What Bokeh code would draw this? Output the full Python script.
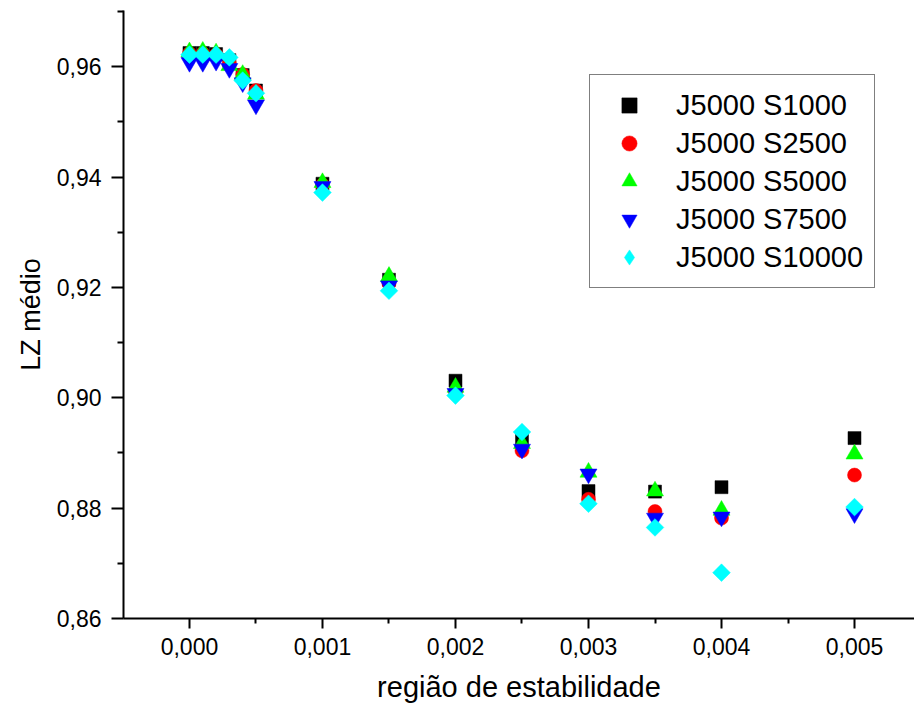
import math
from bokeh.plotting import figure
from bokeh.models import (ColumnDataSource, FixedTicker, CustomJSTickFormatter,
                          Legend, LegendItem, Range1d)
from bokeh.embed import file_html
from bokeh.resources import INLINE

# ---- data ----
x_vals = [0.0, 0.0001, 0.0002, 0.0003, 0.0004, 0.0005, 0.001, 0.0015,
          0.002, 0.0025, 0.003, 0.0035, 0.004, 0.005]
s1000 = [0.9625, 0.9625, 0.9623, 0.9612, 0.9585, 0.9557, 0.9388, 0.9214,
         0.9031, 0.8926, 0.8831, 0.8830, 0.8838, 0.8927]
s2500 = [0.9624, 0.9624, 0.9622, 0.9606, 0.9586, 0.9557, 0.9386, 0.9207,
         0.9010, 0.8904, 0.8816, 0.8794, 0.8782, 0.8860]
s5000 = [0.9627, 0.9628, 0.9625, 0.9602, 0.9586, 0.9550, 0.9390, 0.9220,
         0.9019, 0.8917, 0.8865, 0.8831, 0.8796, 0.8898]
s7500 = [0.9608, 0.9608, 0.9610, 0.9597, 0.9571, 0.9531, 0.9383, 0.9203,
         0.9008, 0.8907, 0.8862, 0.8782, 0.8784, 0.8790]
s10000 = [0.9622, 0.9622, 0.9622, 0.9617, 0.9575, 0.9552, 0.9372, 0.9194,
          0.9004, 0.8938, 0.8808, 0.8765, 0.8683, 0.8802]

series_names = ["J5000 S1000", "J5000 S2500", "J5000 S5000", "J5000 S7500", "J5000 S10000"]
x_ticks = [0.0, 0.001, 0.002, 0.003, 0.004, 0.005]
x_minor = [-0.0005, 0.0005, 0.0015, 0.0025, 0.0035, 0.0045]
y_ticks = [0.86, 0.88, 0.90, 0.92, 0.94, 0.96]
y_minor = [0.87, 0.89, 0.91, 0.93, 0.95, 0.97]

FONT = "Liberation Sans"

p = figure(width=914, height=715, output_backend="svg", toolbar_location=None,
           x_range=Range1d(-0.000496, 0.005451), y_range=Range1d(0.86, 0.9702),
           min_border_left=123, min_border_right=0, min_border_top=10,
           min_border_bottom=97)
p.outline_line_color = None
p.xgrid.visible = False
p.ygrid.visible = False
p.background_fill_color = "white"
p.border_fill_color = "white"

styles = [
    dict(data=s1000, marker="square", size=13, color="#000000", angle=0.0, leg=None),
    dict(data=s2500, marker="circle", size=14, color="#FF0000", angle=0.0, leg=None),
    dict(data=s5000, marker="triangle", size=17, color="#00FF00", angle=0.0, leg=None),
    dict(data=s7500, marker="inverted_triangle", size=17, color="#0000FF", angle=0.0, leg=None),
    dict(data=s10000, marker="square", size=12.5, color="#00FFFF", angle=math.pi / 4, leg="diamond"),
]

items = []
for name, st in zip(series_names, styles):
    src = ColumnDataSource(dict(x=x_vals, y=st["data"]))
    r = p.scatter("x", "y", source=src, marker=st["marker"], size=st["size"],
                  fill_color=st["color"], line_color=st["color"], line_width=0.5,
                  angle=st["angle"])
    if st["leg"] is not None:
        # legend-only swatch (legend glyphs ignore marker angle)
        lsrc = ColumnDataSource(dict(x=[float("nan")], y=[float("nan")]))
        r = p.scatter("x", "y", source=lsrc, marker=st["leg"], size=st["size"],
                      fill_color=st["color"], line_color=st["color"], line_width=0.5)
    items.append(LegendItem(label=name, renderers=[r]))

legend = Legend(items=items, location=(466, 330))
legend.border_line_color = "black"
legend.border_line_width = 1.5
legend.background_fill_alpha = 1.0
legend.label_text_font = FONT
legend.label_text_font_size = "29px"
legend.label_text_color = "black"
legend.padding = 11
legend.spacing = 0
legend.margin = 0
legend.glyph_width = 56
legend.glyph_height = 38
legend.label_height = 38
legend.label_standoff = 19
p.add_layout(legend)

# x axis
xa = p.xaxis[0]
xa.ticker = FixedTicker(ticks=x_ticks, minor_ticks=x_minor)
xa.formatter = CustomJSTickFormatter(code="return tick.toFixed(3).replace('.', ',');")
xa.axis_label = "região de estabilidade"
# y axis
ya = p.yaxis[0]
ya.ticker = FixedTicker(ticks=y_ticks, minor_ticks=y_minor)
ya.formatter = CustomJSTickFormatter(code="return tick.toFixed(2).replace('.', ',');")
ya.axis_label = "LZ médio"

for ax, mj, mn in ((xa, 10, 5), (ya, 12, 6)):
    ax.axis_line_color = "black"
    ax.axis_line_width = 2
    ax.major_tick_line_color = "black"
    ax.major_tick_line_width = 2
    ax.minor_tick_line_color = "black"
    ax.minor_tick_line_width = 2
    ax.major_tick_in = 0
    ax.major_tick_out = mj
    ax.minor_tick_in = 0
    ax.minor_tick_out = mn
    ax.major_label_text_font = FONT
    ax.major_label_text_font_size = "23px"
    ax.major_label_text_color = "black"
    ax.axis_label_text_font = FONT
    ax.axis_label_text_font_style = "normal"
    ax.axis_label_text_color = "black"

xa.major_label_standoff = 9
xa.axis_label_text_font_size = "29px"
xa.axis_label_standoff = 13
ya.major_label_standoff = 10
ya.axis_label_text_font_size = "27px"
ya.axis_label_standoff = 8

open("out.html", "w").write(file_html(p, INLINE))
